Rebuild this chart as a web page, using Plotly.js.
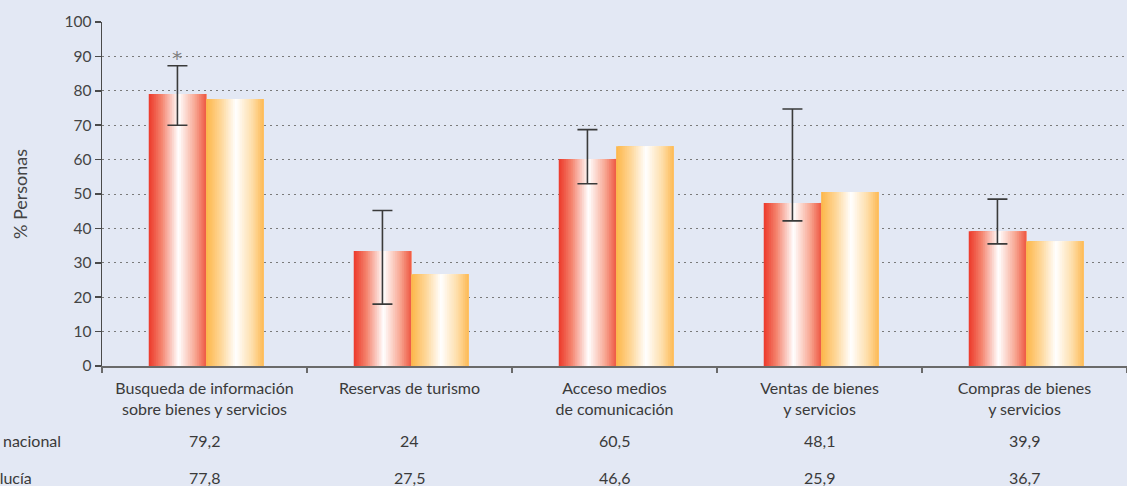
<!DOCTYPE html>
<html>
<head>
<meta charset="utf-8">
<script src="https://cdn.plot.ly/plotly-3.0.1.min.js"></script>
<style>html,body{margin:0;padding:0;background:#e3e8f4;}#chart{width:1127px;height:486px;}</style>
</head>
<body>
<div id="chart"></div>
<script>
// ---- data ----
var categories = [
  "Busqueda de información<br>sobre bienes y servicios",
  "Reservas de turismo",
  "Acceso medios<br>de comunicación",
  "Ventas de bienes<br>y servicios",
  "Compras de bienes<br>y servicios"
];
var nacionalBars = [79.1, 33.4, 60.2, 47.4, 39.2];
var andaluciaBars = [77.6, 26.7, 63.9, 50.6, 36.3];
var nacionalUpper = [87.3, 45.2, 68.7, 74.7, 48.5];
var nacionalLower = [70.0, 18.0, 53.0, 42.2, 35.5];
var tableRowLabels = ["Total nacional", "Andalucía"];
var tableNacional = ["79,2", "24", "60,5", "48,1", "39,9"];
var tableAndalucia = ["77,8", "27,5", "46,6", "25,9", "36,7"];
var markedCategoryIndex = 0; // asterisk
var asteriskLevel = 89.6;

// ---- styling helpers ----
var FONT = "Lato, 'Open Sans', sans-serif";
var redStops = [[0, [236, 56, 42]], [0.22, [244, 130, 108]], [0.52, [255, 255, 255]], [0.8, [248, 170, 150]], [1, [238, 88, 66]]];
var yellowStops = [[0, [253, 182, 72]], [0.25, [254, 214, 150]], [0.52, [255, 255, 255]], [0.8, [254, 222, 170]], [1, [253, 186, 84]]];
function sample(stops, t) {
  for (var i = 1; i < stops.length; i++) {
    if (t <= stops[i][0]) {
      var a = stops[i - 1], b = stops[i];
      var f = (t - a[0]) / (b[0] - a[0]);
      var c = a[1].map(function (v, k) { return Math.round(v + (b[1][k] - v) * f); });
      return "rgb(" + c.join(",") + ")";
    }
  }
  var l = stops[stops.length - 1][1];
  return "rgb(" + l.join(",") + ")";
}
var BARW = 0.28, RED_OFF = -0.272, YEL_OFF = 0.008, N = 32;
var traces = [];
function gradientBars(values, off, stops, name) {
  for (var i = 0; i < N; i++) {
    var s = i / N;
    traces.push({
      type: "bar", x: categories, y: values, name: name, showlegend: false,
      offset: off + BARW * s, width: BARW * (1 - s),
      marker: {color: sample(stops, (i + 0.5) / N), line: {width: 0}},
      hoverinfo: "skip"
    });
  }
}
gradientBars(nacionalBars, RED_OFF, redStops, "Total nacional");
gradientBars(andaluciaBars, YEL_OFF, yellowStops, "Andalucía");
traces.push({
  type: "bar", x: categories, y: nacionalBars, showlegend: false,
  offset: RED_OFF, width: BARW,
  marker: {color: "rgba(0,0,0,0)", line: {width: 0}},
  error_y: {
    type: "data", symmetric: false,
    array: nacionalUpper.map(function (u, i) { return u - nacionalBars[i]; }),
    arrayminus: nacionalLower.map(function (l, i) { return nacionalBars[i] - l; }),
    color: "#3a3a3a", thickness: 1.6, width: 10
  },
  hoverinfo: "skip"
});

var annotations = [];
var rowY = [-0.218, -0.3227];
[tableNacional, tableAndalucia].forEach(function (row, r) {
  row.forEach(function (txt, i) {
    annotations.push({xref: "x", yref: "paper", x: i, y: rowY[r], text: txt, showarrow: false,
      xanchor: "center", yanchor: "middle", font: {family: FONT, size: 16, color: "#3a3a3a"}});
  });
});
var labelX = [-0.1356, -0.1378];
tableRowLabels.forEach(function (t, r) {
  annotations.push({xref: "paper", yref: "paper", x: labelX[r], y: rowY[r], text: t, showarrow: false,
    xanchor: "left", yanchor: "middle", font: {family: FONT, size: 16, color: "#3a3a3a"}});
});
annotations.push({xref: "x", yref: "y", x: markedCategoryIndex + RED_OFF + BARW / 2, y: asteriskLevel,
  text: "*", showarrow: false, xanchor: "center", yanchor: "middle",
  font: {family: "DejaVu Sans, sans-serif", size: 20, color: "#808080"}});

var layout = {
  width: 1127, height: 486,
  margin: {l: 102, r: 0, t: 22, b: 120},
  paper_bgcolor: "#e3e8f4", plot_bgcolor: "#e3e8f4",
  barmode: "overlay",
  font: {family: FONT, color: "#444"},
  xaxis: {
    type: "category", showline: true, linecolor: "#6a6a6a", linewidth: 1.5,
    ticks: "outside", tickson: "boundaries", ticklen: 5, tickcolor: "#6a6a6a", tickwidth: 1.5,
    ticklabelstandoff: 7,
    showgrid: false, tickfont: {family: FONT, size: 16, color: "#3a3a3a"}, fixedrange: true
  },
  yaxis: {
    range: [0, 100], dtick: 10, tick0: 0,
    showline: true, linecolor: "#4a4a4a", linewidth: 1.5,
    ticks: "outside", ticklen: 6, tickcolor: "#4a4a4a", tickwidth: 1.5,
    showgrid: true, gridcolor: "#7a7a7a", gridwidth: 1, griddash: "2px,4px",
    zeroline: false, tickfont: {family: FONT, size: 15.5, color: "#444"},
    title: {text: "% Personas", font: {family: FONT, size: 18, color: "#444"}, standoff: 32},
    automargin: false, fixedrange: true
  },
  annotations: annotations
};
Plotly.newPlot("chart", traces, layout, {displayModeBar: false, staticPlot: true});
</script>
</body>
</html>
